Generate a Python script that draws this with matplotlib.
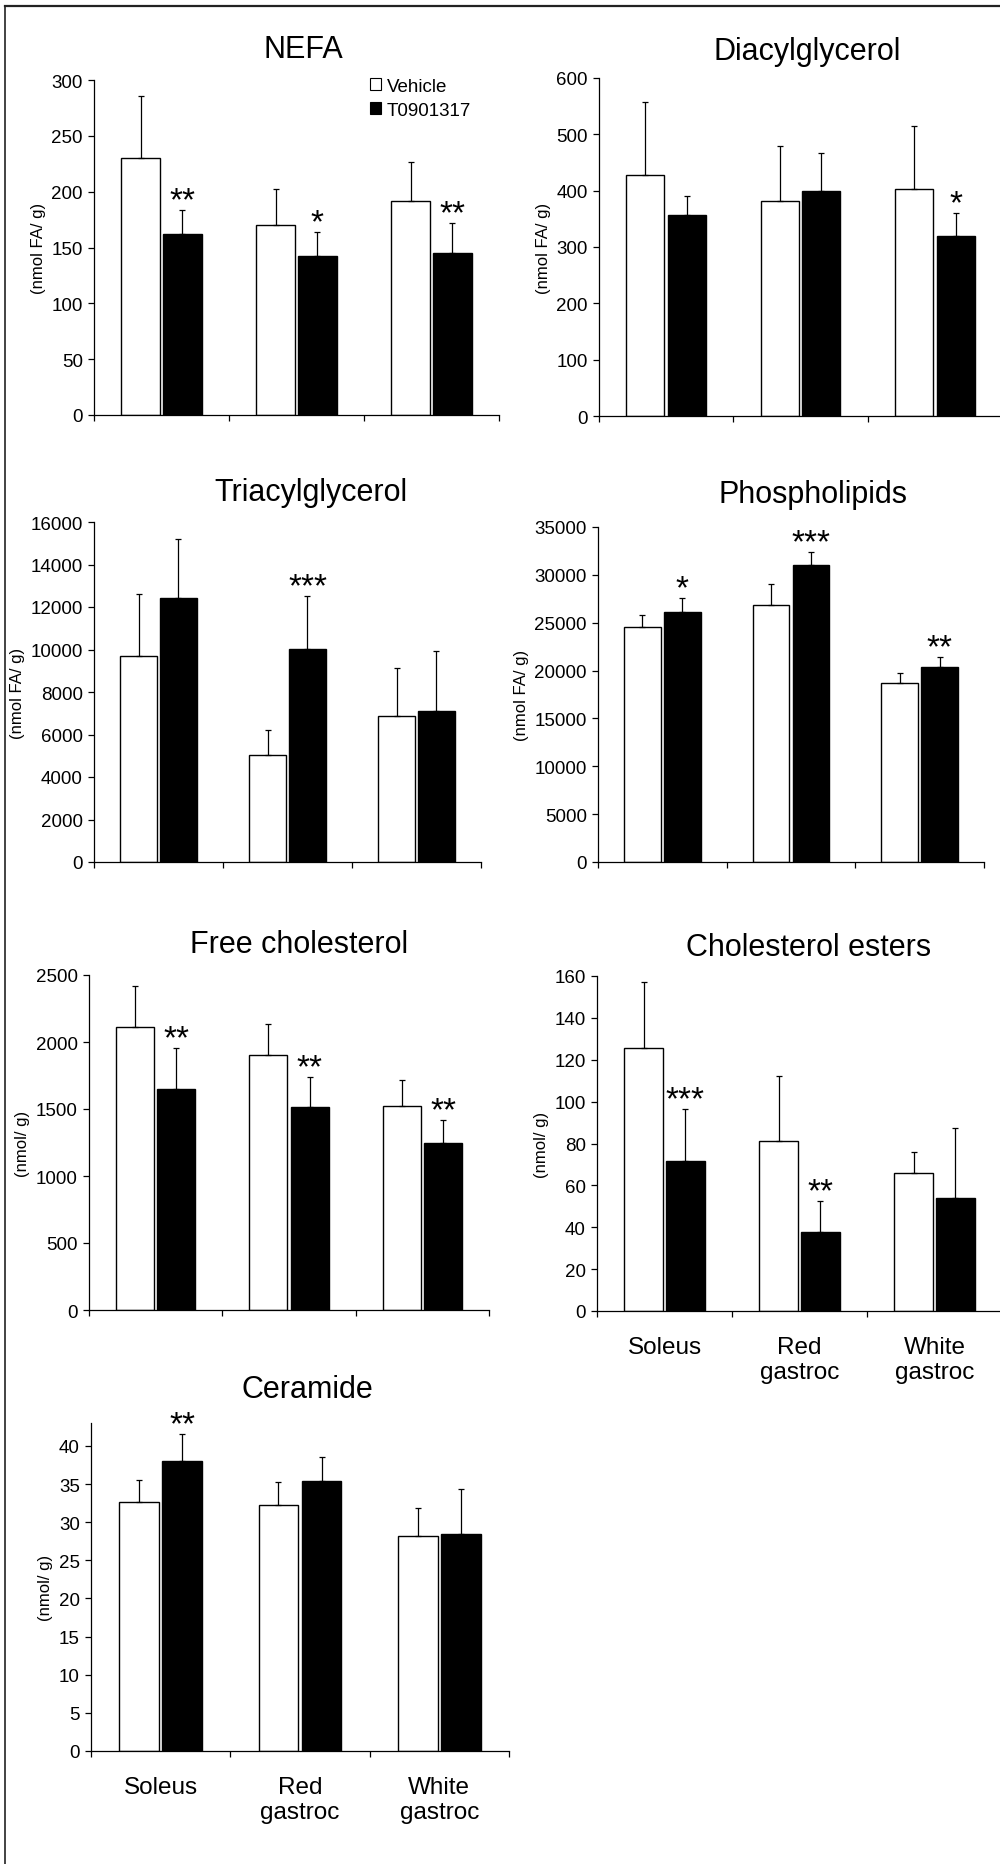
import numpy as np
import matplotlib
matplotlib.use('Agg')
import matplotlib.pyplot as plt
from matplotlib.patches import Patch
from matplotlib.lines import Line2D

plt.rcParams['font.family'] = ['Liberation Sans', 'DejaVu Sans']

# Datos (media y extremo superior de la barra de error)
muscles = ['Soleus', 'Red\ngastroc', 'White\ngastroc']
groups = ['Vehicle', 'T0901317']

titles = ['NEFA', 'Diacylglycerol', 'Triacylglycerol', 'Phospholipids',
          'Free cholesterol', 'Cholesterol esters', 'Ceramide']
ylabels = ['(nmol FA/ g)', '(nmol FA/ g)', '(nmol FA/ g)', '(nmol FA/ g)',
           '(nmol/ g)', '(nmol/ g)', '(nmol/ g)']

nefa_veh = [230, 170, 192]
nefa_veh_err = [286, 202, 227]
nefa_t09 = [162, 142.5, 145]
nefa_t09_err = [184, 164, 172]
nefa_sig = ['**', '*', '**']

dag_veh = [428, 382, 403]
dag_veh_err = [558, 479, 514]
dag_t09 = [356, 399, 320]
dag_t09_err = [391, 467, 360]
dag_sig = ['', '', '*']

tag_veh = [9680, 5050, 6855]
tag_veh_err = [12600, 6200, 9115]
tag_t09 = [12425, 10040, 7090]
tag_t09_err = [15215, 12520, 9945]
tag_sig = ['', '***', '']

pl_veh = [24575, 26870, 18665]
pl_veh_err = [25790, 29090, 19780]
pl_t09 = [26100, 31000, 20335]
pl_t09_err = [27630, 32430, 21380]
pl_sig = ['*', '***', '**']

fc_veh = [2112, 1906, 1521]
fc_veh_err = [2418, 2137, 1717]
fc_t09 = [1652, 1516, 1247]
fc_t09_err = [1956, 1740, 1421]
fc_sig = ['**', '**', '**']

ce_veh = [125.5, 81.2, 65.7]
ce_veh_err = [157.1, 112.3, 76.1]
ce_t09 = [71.5, 37.5, 54.2]
ce_t09_err = [96.7, 52.5, 87.6]
ce_sig = ['***', '**', '']

cer_veh = [32.6, 32.3, 28.2]
cer_veh_err = [35.5, 35.3, 31.9]
cer_t09 = [38.0, 35.4, 28.5]
cer_t09_err = [41.5, 38.6, 34.4]
cer_sig = ['**', '', '']

ymax = [300, 600, 16000, 35000, 2500, 160, 43]
ystep = [50, 100, 2000, 5000, 500, 20, 5]

panels = [
    (nefa_veh, nefa_veh_err, nefa_t09, nefa_t09_err, nefa_sig),
    (dag_veh, dag_veh_err, dag_t09, dag_t09_err, dag_sig),
    (tag_veh, tag_veh_err, tag_t09, tag_t09_err, tag_sig),
    (pl_veh, pl_veh_err, pl_t09, pl_t09_err, pl_sig),
    (fc_veh, fc_veh_err, fc_t09, fc_t09_err, fc_sig),
    (ce_veh, ce_veh_err, ce_t09, ce_t09_err, ce_sig),
    (cer_veh, cer_veh_err, cer_t09, cer_t09_err, cer_sig),
]

# Disposicion en pixeles: izquierda, derecha, base (y=0), tope del eje
W, H = 1000, 1865
boxes = [(94, 499, 416, 81), (599, 1002, 417, 79),
         (94, 481, 863, 523), (598, 984, 863, 528),
         (89, 489, 1311, 976), (597, 1002, 1312, 977),
         (91, 509, 1752, 1424)]
title_xy = [(303, 50), (807, 52), (311, 493), (813, 495),
            (299, 945), (809, 948), (307, 1390)]
with_xlabels = [5, 6]

fig = plt.figure(figsize=(W / 100, H / 100), dpi=100)

# marco exterior (solo arriba e izquierda)
fig.add_artist(Line2D([5 / W, 1], [1 - 6.5 / H, 1 - 6.5 / H], color='#222222', lw=1.6))
fig.add_artist(Line2D([5 / W, 5 / W], [1 - 6.5 / H, 0], color='#222222', lw=1.2))

x = np.arange(len(muscles))
off = 0.155
bw = 0.285

for i, (veh, veh_err, t09, t09_err, sig) in enumerate(panels):
    l, r, b, t = boxes[i]
    ax = fig.add_axes([l / W, 1 - b / H, (r - l) / W, (b - t) / H])
    veh = np.array(veh, dtype=float)
    t09 = np.array(t09, dtype=float)
    up_v = np.array(veh_err) - veh
    up_t = np.array(t09_err) - t09

    ax.bar(x - off, veh, bw, color='white', edgecolor='black', linewidth=1.0, zorder=2)
    ax.bar(x + off, t09, bw, color='black', edgecolor='black', linewidth=1.0, zorder=2)
    ax.errorbar(x - off, veh, yerr=[np.zeros(3), up_v], fmt='none', ecolor='black',
                elinewidth=0.9, capsize=2, capthick=0.9, zorder=3)
    ax.errorbar(x + off, t09, yerr=[np.zeros(3), up_t], fmt='none', ecolor='black',
                elinewidth=0.9, capsize=2, capthick=0.9, zorder=3)

    for j, s in enumerate(sig):
        if s:
            ax.annotate(s, xy=(x[j] + off, t09_err[j]), xytext=(0, 0.5),
                        textcoords='offset points', ha='center', va='baseline',
                        fontsize=24)

    ax.set_xlim(-0.5, 2.5)
    ax.set_ylim(0, ymax[i])
    ax.set_yticks(np.arange(0, ymax[i] + 1, ystep[i]))
    ax.set_xticks([-0.5, 0.5, 1.5, 2.5])
    ax.set_xticklabels([])
    if i in with_xlabels:
        ax.set_xticks(x, minor=True)
        ax.set_xticklabels(muscles, minor=True, fontsize=17.5)
        ax.tick_params(axis='x', which='minor', length=0, pad=18)
    ax.tick_params(axis='both', which='major', direction='out', length=4,
                   width=0.9, labelsize=13.5, pad=4)
    for sp in ['top', 'right']:
        ax.spines[sp].set_visible(False)
    for sp in ['left', 'bottom']:
        ax.spines[sp].set_linewidth(0.9)
    ax.set_ylabel(ylabels[i], fontsize=12, labelpad=4)

    tx, ty = title_xy[i]
    fig.text(tx / W, 1 - ty / H, titles[i], fontsize=22, ha='center', va='center')

    if i == 0:
        handles = [Patch(facecolor='white', edgecolor='black', linewidth=0.8),
                   Patch(facecolor='black', edgecolor='black', linewidth=0.8)]
        ax.legend(handles, groups, loc='upper left', bbox_to_anchor=(370 / W, 1 - 79 / H),
                  bbox_transform=fig.transFigure, frameon=False, fontsize=13.5,
                  handlelength=0.6, handleheight=0.6, handletextpad=0.3,
                  labelspacing=0.35, borderpad=0, borderaxespad=0)

plt.savefig('out.png', dpi=100)
plt.close()
